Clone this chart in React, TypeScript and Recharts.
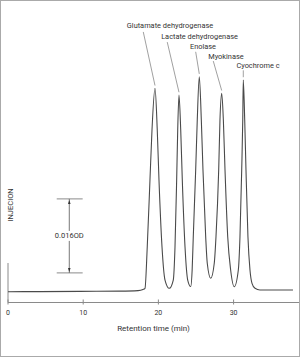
import React from "react";
import {
  LineChart,
  Line,
  XAxis,
  YAxis,
  ReferenceLine,
  ReferenceDot,
} from "recharts";

// chromatogram trace (time in min, absorbance in AU)
const timeMin = [
  0, 4.26, 9.57, 14.89, 17.29, 17.95, 18.22,
  18.52, 18.88, 19.15, 19.55, 19.85, 20.08, 20.48, 20.88, 21.45,
  21.98, 22.21, 22.43, 22.57, 22.74, 22.97, 23.18, 23.54, 23.9, 24.3,
  24.49, 24.64, 24.96, 25.17, 25.44, 25.71, 25.93, 26.29, 26.5, 26.96,
  27.43, 27.66, 28.02, 28.19, 28.42, 28.64, 28.86, 29.22, 29.61, 30.09,
  30.63, 30.85, 31.08, 31.22, 31.29, 31.48, 31.65, 31.91, 32.18, 32.45, 32.85, 33.51, 37.9,
];
const absorbance = [
  0.00234, 0.00236, 0.0024, 0.00246, 0.00257, 0.00281, 0.00307,
  0.01206, 0.02649, 0.0373, 0.04631, 0.0373, 0.02649, 0.01206, 0.00486, 0.00307,
  0.00486, 0.01206, 0.02649, 0.0373, 0.04486, 0.0373, 0.02649, 0.01206, 0.00486, 0.00346,
  0.00703, 0.01423, 0.02865, 0.03946, 0.04882, 0.03946, 0.02865, 0.01423, 0.00848, 0.00523,
  0.00848, 0.01423, 0.02865, 0.03946, 0.04523, 0.03946, 0.02865, 0.01423, 0.00703, 0.00342,
  0.00703, 0.01423, 0.02865, 0.03946, 0.04811, 0.03946, 0.02865, 0.01423, 0.00703, 0.00415, 0.00307, 0.0027, 0.0027,
];

const xTicks = [0, 10, 20, 30];

// peaks
const peakNames = [
  "Glutamate dehydrogenase",
  "Lactate dehydrogenase",
  "Enolase",
  "Myokinase",
  "Cyochrome c",
];
const peakTimes = [19.55, 22.74, 25.44, 28.42, 31.29];
const peakHeights = [0.04631, 0.04486, 0.04882, 0.04523, 0.04811];
// where the leader lines start, above each peak
const leaderTimes = [17.99, 21.18, 24.96, 27.3, 31.29];
const leaderLevels = [0.0585, 0.0563, 0.0542, 0.0522, 0.0502];

// 0.016 OD scale bar
const scaleBottom = 0.0064;
const scaleSpan = 0.016;
const scaleFrom = 6.48;
const scaleTo = 9.93;
const scaleAt = 8.15;

const data = timeMin.map((t, i) => ({ t, a: absorbance[i] }));

const W = 300;
const H = 357;
const FONT = "Roboto, 'Liberation Sans', sans-serif";
const INK = "#333";
const GREY = "#8a8a8a";

// text offset from leader start, px
const labelOffset = [
  [26.7, -6.3],
  [32.3, -4.7],
  [7.3, -4.3],
  [12.7, -3.7],
  [14.7, -3.8],
];

function AxisTick(props: any) {
  const { x, y, payload } = props;
  return (
    <g>
      <line x1={x} x2={x} y1={y} y2={y - 5} stroke={GREY} strokeWidth={1} />
      <text
        x={x}
        y={y + 9}
        textAnchor="middle"
        dominantBaseline="middle"
        fontSize={7}
        fontFamily={FONT}
        fill={INK}
      >
        {payload.value}
      </text>
    </g>
  );
}

export default function App() {
  const scaleTop = scaleBottom + scaleSpan;
  return (
    <div style={{ position: "absolute", left: 0, top: 0, width: W, height: H, background: "#fff" }}>
      <LineChart width={W} height={H} data={data} margin={{ top: 10, right: 1, bottom: 0, left: 8 }}>
        <XAxis
          dataKey="t"
          type="number"
          domain={[0, 38.7]}
          ticks={xTicks}
          allowDataOverflow
          height={54.5}
          tickSize={0}
          tickLine={false}
          tick={<AxisTick />}
          axisLine={{ stroke: GREY, strokeWidth: 1 }}
          label={{
            value: "Retention time (min)",
            position: "insideTop",
            offset: 23,
            fontSize: 8,
            fontFamily: FONT,
            fill: INK,
          }}
        />
        <YAxis hide type="number" domain={[0, 0.06324]} allowDataOverflow />

        {/* injection stub at t = 0 */}
        <ReferenceLine
          segment={[{ x: 0, y: 0 }, { x: 0, y: 0.00854 }]}
          stroke={GREY}
          strokeWidth={1}
        />
        <ReferenceDot
          x={0.4}
          y={0.0211}
          r={0}
          shape={(p: any) => (
            <text
              x={p.cx}
              y={p.cy}
              transform={`rotate(-90 ${p.cx} ${p.cy})`}
              textAnchor="middle"
              dominantBaseline="middle"
              fontSize={7.5}
              fontFamily={FONT}
              fill={INK}
            >
              INJECION
            </text>
          )}
        />

        {/* scale bar */}
        <ReferenceLine
          segment={[{ x: scaleFrom, y: scaleTop }, { x: scaleTo, y: scaleTop }]}
          stroke={GREY}
          strokeWidth={1}
        />
        <ReferenceLine
          segment={[{ x: scaleFrom, y: scaleBottom }, { x: scaleTo, y: scaleBottom }]}
          stroke={GREY}
          strokeWidth={1}
        />
        <ReferenceLine
          segment={[{ x: scaleAt, y: scaleTop }, { x: scaleAt, y: scaleBottom }]}
          shape={(p: any) => (
            <g>
              <line x1={p.x1} y1={p.y1} x2={p.x2} y2={p.y2} stroke="#555" strokeWidth={0.8} />
              <polygon
                points={`${p.x1},${p.y1 + 1} ${p.x1 - 1.3},${p.y1 + 5} ${p.x1 + 1.3},${p.y1 + 5}`}
                fill="#333"
              />
              <polygon
                points={`${p.x2},${p.y2 - 1} ${p.x2 - 1.3},${p.y2 - 5} ${p.x2 + 1.3},${p.y2 - 5}`}
                fill="#333"
              />
            </g>
          )}
        />
        <ReferenceDot
          x={scaleAt}
          y={scaleBottom + scaleSpan / 2}
          r={0}
          shape={(p: any) => (
            <g>
              <rect x={p.cx - 15} y={p.cy - 5} width={30} height={10} fill="#fff" />
              <text
                x={p.cx}
                y={p.cy}
                textAnchor="middle"
                dominantBaseline="middle"
                fontSize={7.5}
                fontFamily={FONT}
                fill={INK}
              >
                0.016OD
              </text>
            </g>
          )}
        />

        {/* peak labels and leaders */}
        {peakNames.map((name, i) => (
          <ReferenceLine
            key={name}
            segment={[
              { x: leaderTimes[i], y: leaderLevels[i] },
              { x: peakTimes[i], y: peakHeights[i] + 0.0006 },
            ]}
            shape={(p: any) => (
              <g>
                <line x1={p.x1} y1={p.y1} x2={p.x2} y2={p.y2} stroke="#777" strokeWidth={0.7} />
                <text
                  x={p.x1 + labelOffset[i][0]}
                  y={p.y1 + labelOffset[i][1]}
                  textAnchor="middle"
                  dominantBaseline="middle"
                  fontSize={7.4}
                  fontFamily={FONT}
                  fill={INK}
                >
                  {name}
                </text>
              </g>
            )}
          />
        ))}

        <Line
          type="monotone"
          dataKey="a"
          stroke="#4a4a4a"
          strokeWidth={1.1}
          dot={false}
          isAnimationActive={false}
        />
      </LineChart>
      <div
        style={{
          position: "absolute",
          inset: 0,
          border: "1px solid #aaa",
          pointerEvents: "none",
        }}
      />
    </div>
  );
}
